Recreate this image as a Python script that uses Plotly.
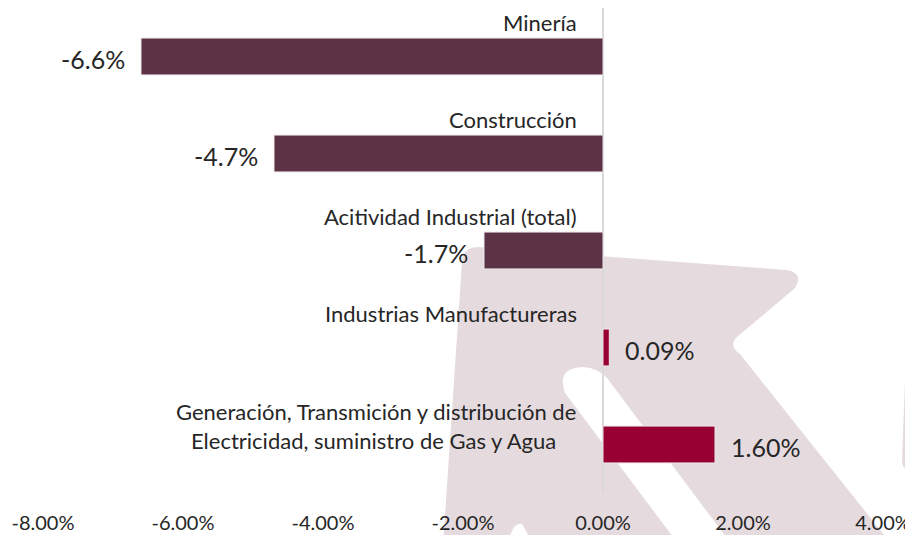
import plotly.graph_objects as go

# ---------------- data ----------------
categories = [
    "Minería",
    "Construcción",
    "Acitividad Industrial (total)",
    "Industrias Manufactureras",
    "Generación, Transmición y distribución de<br>Electricidad, suministro de Gas y Agua",
]
values = [-0.066, -0.047, -0.017, 0.0009, 0.016]
value_labels = ["-6.6%", "-4.7%", "-1.7%", "0.09%", "1.60%"]
tick_values = [-0.08, -0.06, -0.04, -0.02, 0.0, 0.02, 0.04]
tick_labels = ["-8.00%", "-6.00%", "-4.00%", "-2.00%", "0.00%", "2.00%", "4.00%"]

NEG_COLOR = "#5B3345"
POS_COLOR = "#980033"
TEXT_COLOR = "#262626"
FONT = "Lato"

# The page body has an 8px margin, so the figure is placed at (8, 8)
OFF = 8
W, H = 913 - OFF, 535 - OFF
ML, MR, MT, MB = 0, 0, 0, 42
ZERO_PX = 603 - OFF          # pixel of x = 0 inside the figure
PX_PER_PCT = 70.0


def px2paper(px, py):
    # px, py given in page (screenshot) pixels
    fx, fy = px - OFF, py - OFF
    return fx / (W - ML - MR), (H - MB - fy) / (H - MT - MB)


def path_from_pixels(cmds):
    out = []
    for c in cmds:
        if c[0] == "Z":
            out.append("Z")
        else:
            s = c[0]
            for (px, py) in c[1:]:
                x, y = px2paper(px, py)
                s += f" {x:.5f},{y:.5f}"
            out.append(s)
    return " ".join(out)


colors = [NEG_COLOR if v < 0 else POS_COLOR for v in values]

fig = go.Figure()
fig.add_trace(go.Bar(
    y=categories,
    x=values,
    orientation="h",
    marker=dict(color=colors, line=dict(color="#EDE6EA", width=1)),
    width=0.38,
    hoverinfo="skip",
))

# watermark (decorative background logo)
wm_color = "#E5DBDF"
main_shape = path_from_pixels([
    ("M", (443, 545)),
    ("L", (462, 262)),
    ("Q", (463, 247), (478, 247)),
    ("L", (787, 270)),
    ("Q", (804, 273), (795, 288)),
    ("L", (737, 337)),
    ("Q", (728, 346), (740, 354)),
    ("L", (892, 545)),
    ("Z",),
])
stripe = path_from_pixels([
    ("M", (565, 393)),
    ("Q", (556, 368), (583, 367)),
    ("Q", (598, 368), (607, 378)),
    ("L", (732, 545)),
    ("L", (679, 545)),
    ("Z",),
])
blob = path_from_pixels([
    ("M", (508, 545)),
    ("Q", (512, 522), (522, 524)),
    ("L", (534, 545)),
    ("Z",),
])
right_sliver = path_from_pixels([
    ("M", (915, 285)),
    ("L", (908, 300)),
    ("L", (902, 462)),
    ("Q", (903, 472), (915, 470)),
    ("Z",),
])
shapes = [
    dict(type="path", path=main_shape, xref="paper", yref="paper",
         fillcolor=wm_color, line=dict(width=0), layer="below"),
    dict(type="path", path=stripe, xref="paper", yref="paper",
         fillcolor="white", line=dict(width=0), layer="below"),
    dict(type="path", path=blob, xref="paper", yref="paper",
         fillcolor="white", line=dict(width=0), layer="below"),
    dict(type="path", path=right_sliver, xref="paper", yref="paper",
         fillcolor=wm_color, line=dict(width=0), layer="below"),
]

annotations = []
# category labels above bars
line_shifts = {1: [(-24, 34)], 2: [(-25, 33), (-45, 4)]}
for cat in categories:
    lines = cat.split("<br>")
    for ln, (xs, ys) in zip(lines, line_shifts[len(lines)]):
        annotations.append(dict(
            x=0, y=cat, xref="x", yref="y", text=ln, showarrow=False,
            xanchor="right", yanchor="middle", xshift=xs, yshift=ys,
            font=dict(family=FONT, size=22, color=TEXT_COLOR),
        ))
# value labels
for cat, v, lab in zip(categories, values, value_labels):
    annotations.append(dict(
        x=v, y=cat, xref="x", yref="y", text=lab, showarrow=False,
        xanchor="right" if v < 0 else "left", yanchor="middle",
        xshift=-14 if v < 0 else 14, yshift=-2,
        font=dict(family=FONT, size=25, color=TEXT_COLOR),
    ))

x_per_px = 0.01 / PX_PER_PCT
x_min = -ZERO_PX * x_per_px
x_max = (W - ZERO_PX) * x_per_px

fig.update_layout(
    width=W, height=H,
    margin=dict(l=ML, r=MR, t=MT, b=MB, autoexpand=False),
    paper_bgcolor="white",
    plot_bgcolor="rgba(0,0,0,0)",
    showlegend=False,
    shapes=shapes,
    annotations=annotations,
    xaxis=dict(
        range=[x_min, x_max],
        tickvals=tick_values,
        ticktext=tick_labels,
        showgrid=False,
        zeroline=True,
        zerolinecolor="#D9D9D9",
        zerolinewidth=1.5,
        showline=False,
        ticks="",
        tickfont=dict(family=FONT, size=20, color=TEXT_COLOR),
        ticklabelstandoff=16,
        automargin=False,
        fixedrange=True,
    ),
    yaxis=dict(
        categoryorder="array",
        categoryarray=categories,
        autorange="reversed",
        showticklabels=False,
        showgrid=False,
        zeroline=False,
        showline=False,
        ticks="",
        automargin=False,
        fixedrange=True,
    ),
)

fig.write_html("out.html", config={"displayModeBar": False})
